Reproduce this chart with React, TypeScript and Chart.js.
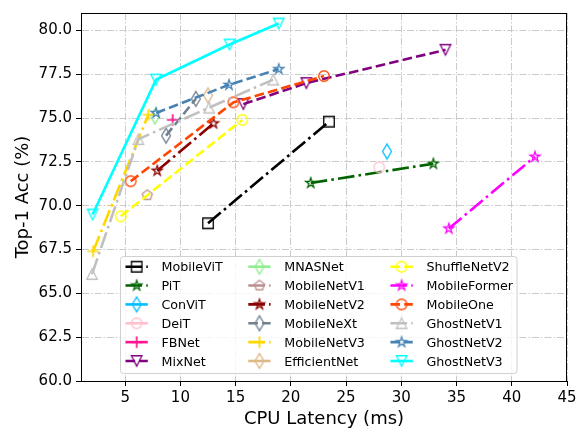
import React, { useEffect, useRef } from 'react';
import { Chart, registerables } from 'chart.js';

Chart.register(...registerables);

// ---------- data ----------
const X_TICKS = [5, 10, 15, 20, 25, 30, 35, 40, 45];
const Y_TICKS = [60, 62.5, 65, 67.5, 70, 72.5, 75, 77.5, 80];

const MOBILEVIT_X = [12.5, 23.45];
const MOBILEVIT_Y = [69.0, 74.8];
const PIT_X = [21.8, 32.9];
const PIT_Y = [71.3, 72.4];
const CONVIT_X = [28.7];
const CONVIT_Y = [73.1];
const DEIT_X = [28.0];
const DEIT_Y = [72.2];
const FBNET_X = [9.3];
const FBNET_Y = [74.9];
const MIXNET_X = [15.7, 21.4, 34.0];
const MIXNET_Y = [75.8, 77.0, 78.9];
const MNASNET_X = [7.7];
const MNASNET_Y = [75.1];
const MOBILENETV1_X = [7.0];
const MOBILENETV1_Y = [70.6];
const MOBILENETV2_X = [7.9, 13.0];
const MOBILENETV2_Y = [72.0, 74.7];
const MOBILENEXT_X = [8.7, 11.4];
const MOBILENEXT_Y = [74.0, 76.1];
const MOBILENETV3_X = [2.1, 7.1];
const MOBILENETV3_Y = [67.4, 75.2];
const EFFICIENTNET_X = [12.5];
const EFFICIENTNET_Y = [76.3];
const SHUFFLENETV2_X = [4.6, 15.6];
const SHUFFLENETV2_Y = [69.4, 74.9];
const MOBILEFORMER_X = [34.3, 42.1];
const MOBILEFORMER_Y = [68.7, 72.8];
const MOBILEONE_X = [5.5, 14.8, 23.0];
const MOBILEONE_Y = [71.4, 75.9, 77.4];
const GHOSTNETV1_X = [2.0, 6.2, 12.6, 18.4];
const GHOSTNETV1_Y = [66.1, 73.8, 75.6, 77.2];
const GHOSTNETV2_X = [7.8, 14.4, 18.9];
const GHOSTNETV2_Y = [75.3, 76.9, 77.8];
const GHOSTNETV3_X = [2.05, 7.8, 14.45, 18.9];
const GHOSTNETV3_Y = [69.5, 77.2, 79.2, 80.4];

const SERIES = [
  { name: 'MobileViT', x: MOBILEVIT_X, y: MOBILEVIT_Y, color: 'black', line: '-.', marker: 's' },
  { name: 'PiT', x: PIT_X, y: PIT_Y, color: 'darkgreen', line: '-.', marker: '*' },
  { name: 'ConViT', x: CONVIT_X, y: CONVIT_Y, color: 'deepskyblue', line: '-', marker: 'd' },
  { name: 'DeiT', x: DEIT_X, y: DEIT_Y, color: 'pink', line: '-', marker: 'o' },
  { name: 'FBNet', x: FBNET_X, y: FBNET_Y, color: 'deeppink', line: '-', marker: '+' },
  { name: 'MixNet', x: MIXNET_X, y: MIXNET_Y, color: 'purple', line: '--', marker: 'v' },
  { name: 'MNASNet', x: MNASNET_X, y: MNASNET_Y, color: 'lightgreen', line: '-', marker: 'd' },
  { name: 'MobileNetV1', x: MOBILENETV1_X, y: MOBILENETV1_Y, color: 'rosybrown', line: '-.', marker: 'p' },
  { name: 'MobileNetV2', x: MOBILENETV2_X, y: MOBILENETV2_Y, color: 'darkred', line: '-.', marker: '*' },
  { name: 'MobileNeXt', x: MOBILENEXT_X, y: MOBILENEXT_Y, color: 'slategray', line: '--', marker: 'd' },
  { name: 'MobileNetV3', x: MOBILENETV3_X, y: MOBILENETV3_Y, color: 'gold', line: '-.', marker: '+' },
  { name: 'EfficientNet', x: EFFICIENTNET_X, y: EFFICIENTNET_Y, color: 'burlywood', line: '-', marker: 'd' },
  { name: 'ShuffleNetV2', x: SHUFFLENETV2_X, y: SHUFFLENETV2_Y, color: 'yellow', line: '--', marker: 'o' },
  { name: 'MobileFormer', x: MOBILEFORMER_X, y: MOBILEFORMER_Y, color: 'magenta', line: '-.', marker: '*' },
  { name: 'MobileOne', x: MOBILEONE_X, y: MOBILEONE_Y, color: 'orangered', line: '--', marker: 'o' },
  { name: 'GhostNetV1', x: GHOSTNETV1_X, y: GHOSTNETV1_Y, color: 'silver', line: '-.', marker: '^' },
  { name: 'GhostNetV2', x: GHOSTNETV2_X, y: GHOSTNETV2_Y, color: 'steelblue', line: '--', marker: '*' },
  { name: 'GhostNetV3', x: GHOSTNETV3_X, y: GHOSTNETV3_Y, color: 'cyan', line: '-', marker: 'v' },
];

// ---------- styling helpers ----------
const FONT = '"DejaVu Sans", "Liberation Sans", sans-serif';
const LW = 2.6;
const DASHES: Record<string, number[]> = {
  '-': [],
  '--': [3.7 * LW, 1.6 * LW],
  '-.': [6.4 * LW, 1.6 * LW, 1 * LW, 1.6 * LW],
};

function makeMarker(kind: string, color: string): HTMLCanvasElement {
  const S = 24;
  const c = document.createElement('canvas');
  c.width = S;
  c.height = S;
  const g = c.getContext('2d')!;
  const ms = 10.5;
  const h = ms / 2;
  const cx = S / 2;
  const cy = S / 2;
  g.strokeStyle = color;
  g.lineWidth = 1.3;
  g.lineJoin = 'miter';
  g.beginPath();
  if (kind === 's') {
    g.rect(cx - h, cy - h, ms, ms);
  } else if (kind === 'o') {
    g.arc(cx, cy, h, 0, Math.PI * 2);
  } else if (kind === '*') {
    const inner = h * 0.381966;
    for (let i = 0; i < 10; i++) {
      const r = i % 2 === 0 ? h : inner;
      const a = -Math.PI / 2 + (i * Math.PI) / 5;
      const px = cx + r * Math.cos(a);
      const py = cy + r * Math.sin(a);
      if (i === 0) g.moveTo(px, py);
      else g.lineTo(px, py);
    }
    g.closePath();
  } else if (kind === 'p') {
    for (let i = 0; i < 5; i++) {
      const a = -Math.PI / 2 + (i * 2 * Math.PI) / 5;
      const px = cx + h * Math.cos(a);
      const py = cy + h * Math.sin(a);
      if (i === 0) g.moveTo(px, py);
      else g.lineTo(px, py);
    }
    g.closePath();
  } else if (kind === 'd') {
    const hh = ms * Math.SQRT1_2;
    const hw = hh * 0.6;
    g.moveTo(cx, cy - hh);
    g.lineTo(cx + hw, cy);
    g.lineTo(cx, cy + hh);
    g.lineTo(cx - hw, cy);
    g.closePath();
  } else if (kind === '+') {
    g.lineWidth = 1.7;
    g.moveTo(cx - h - 0.5, cy);
    g.lineTo(cx + h + 0.5, cy);
    g.moveTo(cx, cy - h - 0.5);
    g.lineTo(cx, cy + h + 0.5);
  } else if (kind === 'v') {
    g.moveTo(cx - h, cy - h);
    g.lineTo(cx + h, cy - h);
    g.lineTo(cx, cy + h);
    g.closePath();
  } else if (kind === '^') {
    g.moveTo(cx, cy - h);
    g.lineTo(cx + h, cy + h);
    g.lineTo(cx - h, cy + h);
    g.closePath();
  }
  g.stroke();
  return c;
}

const framePlugin = {
  id: 'frame',
  afterDraw(chart: any) {
    const { ctx, chartArea } = chart;
    ctx.save();
    ctx.setLineDash([]);
    ctx.strokeStyle = '#000';
    ctx.lineWidth = 1;
    const l = Math.round(chartArea.left) + 0.5;
    const t = Math.round(chartArea.top) + 0.5;
    const r = Math.round(chartArea.right) - 0.5;
    const b = Math.round(chartArea.bottom) + 0.5;
    ctx.strokeRect(l, t, r - l, b - t);
    ctx.restore();
  },
};

const legendPlugin = {
  id: 'boxLegend',
  afterDatasetsDraw(chart: any) {
    const ctx: CanvasRenderingContext2D = chart.ctx;
    const ds = chart.data.datasets;
    const rows = 6;
    const fs = 12.7;
    ctx.save();
    ctx.font = `${fs}px ${FONT}`;
    const ncol = Math.ceil(ds.length / rows);
    const colW: number[] = [];
    for (let c = 0; c < ncol; c++) {
      let w = 0;
      for (let r = 0; r < rows; r++) {
        const d = ds[c * rows + r];
        if (d) w = Math.max(w, ctx.measureText(d.label).width);
      }
      colW.push(w);
    }
    const area = chart.chartArea;
    const boxL = area.left + 39.5;
    const boxT = area.bottom - 124.5;
    const boxB = area.bottom - 7.5;
    const handleLen = 22.3;
    const textGap = 13.7;
    const colSpacing = 25.5;
    const colX: number[] = [];
    let x = boxL + 5;
    for (let c = 0; c < ncol; c++) {
      colX.push(x);
      x += handleLen + textGap + colW[c] + colSpacing;
    }
    const boxR = colX[ncol - 1] + handleLen + textGap + colW[ncol - 1] + 4;
    // box
    ctx.beginPath();
    const rad = 3;
    ctx.moveTo(boxL + rad, boxT);
    ctx.arcTo(boxR, boxT, boxR, boxB, rad);
    ctx.arcTo(boxR, boxB, boxL, boxB, rad);
    ctx.arcTo(boxL, boxB, boxL, boxT, rad);
    ctx.arcTo(boxL, boxT, boxR, boxT, rad);
    ctx.closePath();
    ctx.fillStyle = 'rgba(255,255,255,0.8)';
    ctx.fill();
    ctx.strokeStyle = '#d0d0d0';
    ctx.lineWidth = 1;
    ctx.stroke();
    // entries
    for (let i = 0; i < ds.length; i++) {
      const d = ds[i];
      const c = Math.floor(i / rows);
      const r = i % rows;
      const cy = boxT + 10.2 + r * 18.86;
      const hx = colX[c];
      ctx.save();
      ctx.setLineDash(d.borderDash || []);
      ctx.strokeStyle = d.borderColor;
      ctx.lineWidth = d.borderWidth;
      ctx.beginPath();
      ctx.moveTo(hx, cy);
      ctx.lineTo(hx + handleLen, cy);
      ctx.stroke();
      ctx.restore();
      const img = d.pointStyle as HTMLCanvasElement;
      ctx.drawImage(img, hx + handleLen / 2 - img.width / 2, cy - img.height / 2);
      ctx.fillStyle = '#000';
      ctx.textBaseline = 'alphabetic';
      ctx.textAlign = 'left';
      ctx.fillText(d.label, hx + handleLen + textGap, cy + 0.365 * fs);
    }
    ctx.restore();
  },
};

export default function App() {
  const ref = useRef<HTMLCanvasElement | null>(null);

  useEffect(() => {
    document.body.style.margin = '0';
    const canvas = ref.current;
    if (!canvas) return;

    const datasets = SERIES.map((s, i) => ({
      label: s.name,
      data: s.x.map((xv, k) => ({ x: xv, y: s.y[k] })),
      borderColor: s.color,
      backgroundColor: s.color,
      borderWidth: LW,
      borderDash: DASHES[s.line],
      showLine: s.x.length > 1,
      tension: 0,
      fill: false,
      pointStyle: makeMarker(s.marker, s.color),
      pointRadius: 5,
      order: -i,
    }));

    const tickFont = { family: FONT, size: 15 };
    const titleFont = { family: FONT, size: 18 };

    const chart = new Chart(canvas, {
      type: 'scatter',
      data: { datasets } as any,
      plugins: [legendPlugin, framePlugin],
      options: {
        animation: false,
        responsive: false,
        events: [],
        layout: { padding: { top: 12, right: 18, left: 0, bottom: 0 } },
        plugins: {
          legend: { display: false },
          tooltip: { enabled: false },
        },
        scales: {
          x: {
            type: 'linear',
            min: 1,
            max: 45,
            afterBuildTicks: (s: any) => {
              s.ticks = X_TICKS.map((v) => ({ value: v }));
            },
            afterFit: (s: any) => {
              s.height = 53;
            },
            ticks: {
              font: tickFont,
              color: '#000',
              padding: 3,
              maxRotation: 0,
              autoSkip: false,
              callback: (v: any) => String(v),
            },
            grid: {
              color: '#cacaca',
              lineWidth: 1,
              tickColor: '#000',
              tickLength: 5,
              tickWidth: 1,
            },
            border: { color: '#000', width: 1, dash: [7, 2, 1.5, 2] },
            title: {
              display: true,
              text: 'CPU Latency (ms)',
              font: titleFont,
              color: '#000',
              padding: { top: 0, bottom: 4 },
            },
          },
          y: {
            type: 'linear',
            min: 60,
            max: 81,
            afterBuildTicks: (s: any) => {
              s.ticks = Y_TICKS.map((v) => ({ value: v }));
            },
            afterFit: (s: any) => {
              s.width = 81;
            },
            ticks: {
              font: tickFont,
              color: '#000',
              padding: 4,
              autoSkip: false,
              callback: (v: any) => Number(v).toFixed(1),
            },
            grid: {
              color: '#cacaca',
              lineWidth: 1,
              tickColor: '#000',
              tickLength: 5,
              tickWidth: 1,
            },
            border: { color: '#000', width: 1, dash: [7, 2, 1.5, 2] },
            title: {
              display: true,
              text: 'Top-1 Acc (%)',
              font: titleFont,
              color: '#000',
              padding: { top: 12.5, bottom: 0 },
            },
          },
        },
      } as any,
    });

    return () => {
      chart.destroy();
    };
  }, []);

  return (
    <div style={{ position: 'absolute', left: 0, top: 0, width: 585, height: 434, background: '#fff' }}>
      <canvas ref={ref} width={585} height={434} style={{ width: 585, height: 434, display: 'block' }} />
    </div>
  );
}
